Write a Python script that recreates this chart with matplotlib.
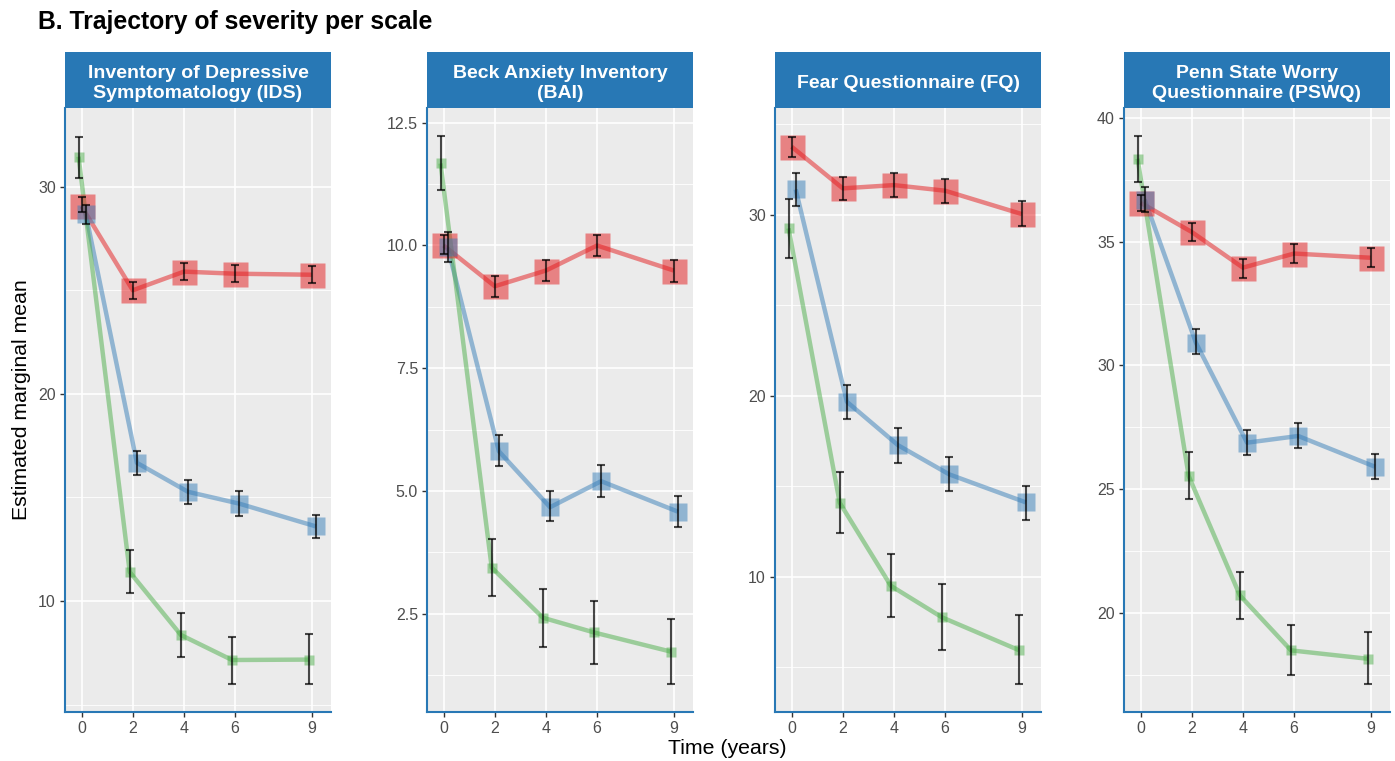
import matplotlib
matplotlib.use("Agg")
import matplotlib.pyplot as plt
import numpy as np
from matplotlib.ticker import MultipleLocator

plt.rcParams['font.family'] = ['Liberation Sans', 'DejaVu Sans']

times = [0, 2, 4, 6, 9]
scales = ["Inventory of Depressive\nSymptomatology (IDS)",
          "Beck Anxiety Inventory\n(BAI)",
          "Fear Questionnaire (FQ)",
          "Penn State Worry\nQuestionnaire (PSWQ)"]

# means and confidence limits per scale, per trajectory group
ids_red = [29.05, 25.0, 25.9, 25.8, 25.75]
ids_red_lo = [28.8, 24.6, 25.5, 25.4, 25.35]
ids_red_hi = [29.5, 25.4, 26.3, 26.2, 26.15]
ids_blue = [28.7, 16.67, 15.27, 14.7, 13.6]
ids_blue_lo = [28.2, 16.1, 14.7, 14.1, 13.05]
ids_blue_hi = [29.1, 17.25, 15.85, 15.3, 14.15]
ids_green = [31.45, 11.4, 8.36, 7.15, 7.17]
ids_green_lo = [30.4, 10.4, 7.3, 6.0, 6.0]
ids_green_hi = [32.4, 12.46, 9.42, 8.26, 8.4]

bai_red = [10.0, 9.17, 9.49, 10.0, 9.49]
bai_red_lo = [9.82, 8.96, 9.27, 9.78, 9.25]
bai_red_hi = [10.22, 9.37, 9.7, 10.22, 9.7]
bai_blue = [9.96, 5.81, 4.67, 5.2, 4.58]
bai_blue_lo = [9.66, 5.5, 4.38, 4.87, 4.26]
bai_blue_hi = [10.27, 6.14, 5.0, 5.52, 4.9]
bai_green = [11.67, 3.44, 2.42, 2.12, 1.73]
bai_green_lo = [11.12, 2.87, 1.83, 1.48, 1.07]
bai_green_hi = [12.23, 4.03, 3.01, 2.76, 2.4]

fq_red = [33.76, 31.46, 31.64, 31.33, 30.04]
fq_red_lo = [33.17, 30.8, 31.0, 30.66, 29.4]
fq_red_hi = [34.3, 32.07, 32.3, 31.97, 30.76]
fq_blue = [31.4, 19.67, 17.27, 15.66, 14.11]
fq_blue_lo = [30.5, 18.7, 16.3, 14.74, 13.13]
fq_blue_hi = [32.3, 20.6, 18.2, 16.63, 15.03]
fq_green = [29.25, 14.09, 9.5, 7.76, 5.95]
fq_green_lo = [27.6, 12.4, 7.76, 5.94, 4.07]
fq_green_hi = [30.9, 15.8, 11.25, 9.6, 7.88]

pswq_red = [36.57, 35.39, 33.95, 34.52, 34.35]
pswq_red_lo = [36.24, 35.02, 33.55, 34.15, 33.99]
pswq_red_hi = [36.88, 35.74, 34.29, 34.89, 34.73]
pswq_blue = [36.7, 30.92, 26.88, 27.15, 25.91]
pswq_blue_lo = [36.21, 30.45, 26.38, 26.65, 25.4]
pswq_blue_hi = [37.22, 31.46, 27.39, 27.69, 26.44]
pswq_green = [38.35, 25.53, 20.71, 18.49, 18.15]
pswq_green_lo = [37.42, 24.62, 19.77, 17.48, 17.12]
pswq_green_hi = [39.26, 26.5, 21.66, 19.5, 19.25]

panels = [
    (ids_red, ids_red_lo, ids_red_hi, ids_blue, ids_blue_lo, ids_blue_hi,
     ids_green, ids_green_lo, ids_green_hi),
    (bai_red, bai_red_lo, bai_red_hi, bai_blue, bai_blue_lo, bai_blue_hi,
     bai_green, bai_green_lo, bai_green_hi),
    (fq_red, fq_red_lo, fq_red_hi, fq_blue, fq_blue_lo, fq_blue_hi,
     fq_green, fq_green_lo, fq_green_hi),
    (pswq_red, pswq_red_lo, pswq_red_hi, pswq_blue, pswq_blue_lo, pswq_blue_hi,
     pswq_green, pswq_green_lo, pswq_green_hi),
]
ylims = [(4.64, 33.8), (0.5, 12.8), (2.53, 35.9), (16.0, 40.4)]
ymajor = [10, 2.5, 10, 5]
yfmt = ["{:.0f}", "{:.1f}", "{:.0f}", "{:.0f}"]

W, H = 1395, 761
fig = plt.figure(figsize=(W / 100, H / 100), dpi=100)
strip_col = "#2878B5"
cols = {"red": "#E41A1C", "blue": "#377EB8", "green": "#4DAF4A"}
msize = {"red": 18, "blue": 13, "green": 7.5}
dodge = {"red": 0.0, "blue": 0.16, "green": -0.12}
lefts = [65, 427, 775, 1124]
pw = 266
top, bottom = 108, 712

for i, data in enumerate(panels):
    l = lefts[i]
    ax = fig.add_axes([l / W, (H - bottom) / H, pw / W, (bottom - top) / H])
    ax.set_facecolor("#EBEBEB")
    groups = [("red", data[0], data[1], data[2]),
              ("blue", data[3], data[4], data[5]),
              ("green", data[6], data[7], data[8])]
    for g, m, lo, hi in groups:
        x = np.array(times) + dodge[g]
        ax.plot(x, m, color=cols[g], lw=3.2, alpha=0.5, zorder=3,
                solid_capstyle="butt")
    for g, m, lo, hi in groups:
        x = np.array(times) + dodge[g]
        ax.plot(x, m, ls="none", marker="s", ms=msize[g], color=cols[g],
                mec="none", alpha=0.5, zorder=4)
    for g, m, lo, hi in groups:
        x = np.array(times) + dodge[g]
        m = np.array(m)
        err = [m - np.array(lo), np.array(hi) - m]
        ax.errorbar(x, m, yerr=err, fmt="none", ecolor="black", elinewidth=1.5,
                    capsize=2.6, capthick=1.5, alpha=0.7, zorder=5)
    ax.set_xlim(-0.65, 9.75)
    ax.set_ylim(*ylims[i])
    ax.set_xticks(times)
    ax.yaxis.set_major_locator(MultipleLocator(ymajor[i]))
    ax.yaxis.set_minor_locator(MultipleLocator(ymajor[i] / 2))
    ax.set_yticklabels([yfmt[i].format(t) for t in ax.get_yticks()])
    ax.set_ylim(*ylims[i])
    ax.grid(which="major", color="white", lw=1.2, zorder=0)
    ax.grid(which="minor", axis="y", color="white", lw=0.6, zorder=0)
    ax.set_axisbelow(True)
    for s in ["top", "right"]:
        ax.spines[s].set_visible(False)
    for s in ["left", "bottom"]:
        ax.spines[s].set_color(strip_col)
        ax.spines[s].set_linewidth(1.5)
    ax.tick_params(axis="both", which="major", length=3.5, width=1,
                   color="#333333", labelcolor="#4D4D4D", labelsize=11.5, pad=3)
    ax.tick_params(axis="y", which="minor", length=0)

    sax = fig.add_axes([l / W, (H - top) / H, pw / W, 56 / H])
    sax.set_facecolor(strip_col)
    sax.set_xticks([])
    sax.set_yticks([])
    for s in sax.spines.values():
        s.set_visible(False)
    sax.text(0.5, 0.44, scales[i], ha="center", va="center", color="white",
             fontsize=14, fontweight="bold", linespacing=1.25,
             transform=sax.transAxes)

fig.text(38 / W, 1 - 22 / H, "B. Trajectory of severity per scale",
         ha="left", va="center", fontsize=17.8, fontweight="bold")
fig.text(22 / W, 1 - 400 / H, "Estimated marginal mean", rotation=90,
         ha="center", va="center", fontsize=15.3)
fig.text(727 / W, 1 - 749 / H, "Time (years)", ha="center", va="center",
         fontsize=15.3)

fig.savefig("out.png", dpi=100)
